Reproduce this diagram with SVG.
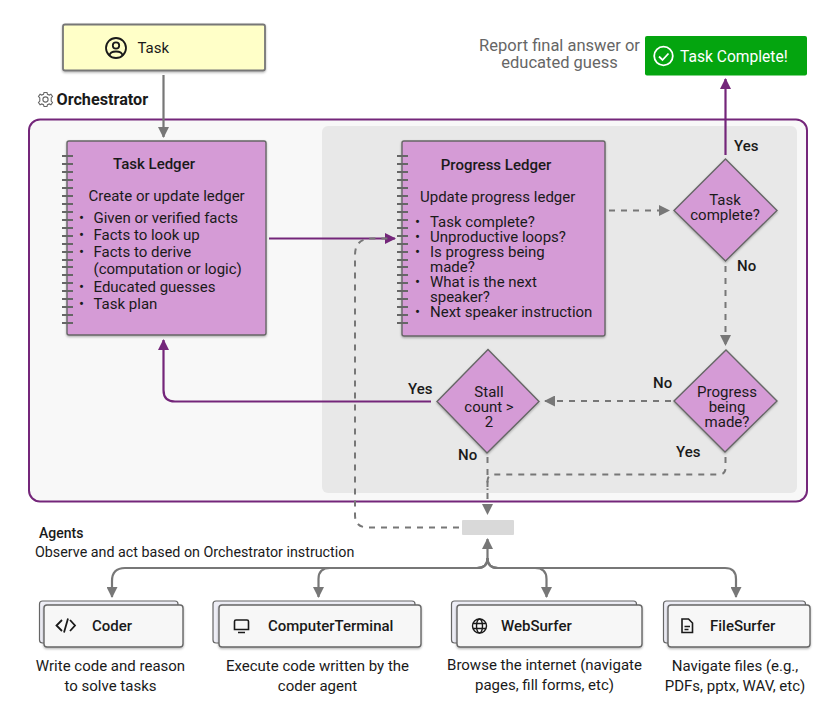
<svg xmlns="http://www.w3.org/2000/svg" width="824" height="704" viewBox="0 0 824 704">
<style>
text{font-family:Roboto,"Liberation Sans",sans-serif;fill:#1a1a1a;font-size:15px}
.c{text-anchor:middle}
.b{font-weight:500}
.sh{filter:url(#s)}
.led{fill:#d59bd6;stroke:#666;stroke-width:1.4}
.card{fill:#f7f7f7;stroke:#666;stroke-width:1.4}
.back{fill:#eeeef6;stroke:#666;stroke-width:1.2}
.g{fill:none;stroke:#777;stroke-width:2.2}
.gd{fill:none;stroke:#777;stroke-width:2;stroke-dasharray:6 6}
.p{fill:none;stroke:#74267a;stroke-width:2.2}
.sp{stroke:#666;stroke-width:2;fill:none}
.ic{fill:none;stroke:#1a1a1a;stroke-width:1.8}
</style>
<defs>
<filter id="s" x="-10%" y="-10%" width="120%" height="125%"><feDropShadow dx="0" dy="1.2" stdDeviation="1.2" flood-color="#000" flood-opacity=".3"/></filter>
<marker id="ag" markerUnits="userSpaceOnUse" markerWidth="12" markerHeight="11" refX="10" refY="5.5" orient="auto"><path d="M0 0L11 5.5L0 11Z" fill="#777"/></marker>
<marker id="ap" markerUnits="userSpaceOnUse" markerWidth="12" markerHeight="11" refX="10" refY="5.5" orient="auto"><path d="M0 0L11 5.5L0 11Z" fill="#74267a"/></marker>
<path id="rings" d="M62 156h11M62 164h11M62 172h11M62 180h11M62 188h11M62 196h11M62 204h11M62 212h11M62 220h11M62 228h11M62 236h11M62 244h11M62 252h11M62 260h11M62 267h11M62 275h11M62 283h11M62 291h11M62 299h11M62 307h11M62 315h11M62 323h11"/>
</defs>

<g id="orchestrator-frame">
<rect x="29" y="119.500" width="778" height="382" rx="11" fill="#f8f8f8" stroke="#74267a" stroke-width="2"/>
<rect x="322" y="126" width="475" height="367" rx="6" fill="#e8e8e8"/>
</g>
<g id="orchestrator-label">
<g class="ic" style="stroke:#666;stroke-width:1.1" transform="translate(45.500 99.500)">
<circle r="2.600"/>
<path d="M-1.500 -7L1.500 -7L2 -5.200L3.800 -4.400L5.400 -5.300L7 -3L5.700 -1.500L5.700 1.500L7 3L5.400 5.300L3.800 4.400L2 5.200L1.500 7L-1.500 7L-2 5.200L-3.800 4.400L-5.400 5.300L-7 3L-5.700 1.500L-5.700 -1.500L-7 -3L-5.400 -5.300L-3.800 -4.400L-2 -5.200Z"/>
</g>
<text x="56.500" y="105" style="font-weight:700;font-size:16.200px">Orchestrator</text>
</g>

<g id="connectors">
<path class="g" d="M163.500 75V137" marker-end="url(#ag)"/>
<path class="p" d="M269 238.500H395" marker-end="url(#ap)"/>
<path class="gd" d="M609 210.500H669" marker-end="url(#ag)"/>
<path class="p" d="M725.500 155V79" marker-end="url(#ap)"/>
<path class="gd" d="M725.500 266V345" marker-end="url(#ag)"/>
<path class="gd" d="M671 401H545" marker-end="url(#ag)"/>
<path class="p" d="M431 401.500H175Q163.500 401.500 163.500 390V340" marker-end="url(#ap)"/>
<path class="gd" d="M487.500 457V514" marker-end="url(#ag)"/>
<path class="gd" d="M725.500 457V468Q725.500 474.500 719 474.500H494Q487.500 474.500 487.500 481V490"/>
<path class="gd" d="M459 527.500H368Q355 527.500 355 515V255Q355 238.500 372 238.500H392"/>
<path class="g" d="M487.500 558Q487.500 568 477 568H125Q112 568 112 581V597" marker-end="url(#ag)"/>
<path class="g" d="M487.500 558Q487.500 568 477 568H330Q318.500 568 318.500 579V597" marker-end="url(#ag)"/>
<path class="g" d="M487.500 558Q487.500 568 498 568H535Q546.500 568 546.500 579V597" marker-end="url(#ag)"/>
<path class="g" d="M487.500 558Q487.500 568 498 568H725Q736 568 736 579V597" marker-end="url(#ag)"/>
<path class="g" d="M487.500 558V539" marker-end="url(#ag)"/>
</g>

<g id="task"><rect class="sh" x="63" y="24.500" width="202" height="46" rx="2" fill="#ffffc8" stroke="#777" stroke-width="1.800"/>
<g class="ic"><circle cx="116" cy="48" r="10"/><circle cx="116" cy="45.500" r="3.200"/><path d="M109.500 55.500Q110 51.500 116 51.500Q122 51.500 122.500 55.500"/></g>
<text x="137.500" y="52.500">Task</text></g>

<g id="task-complete"><rect x="645" y="36" width="162" height="39.500" rx="2" fill="#04a50f"/>
<circle cx="663.500" cy="56" r="9.300" fill="none" stroke="#fff" stroke-width="1.800"/><path d="M659 56.500L662.500 60L668.500 53.500" fill="none" stroke="#fff" stroke-width="1.800"/>
<text x="680" y="62" style="fill:#fff;font-size:15.600px">Task Complete!</text></g>
<g id="report-label"><text class="c" x="559.500" y="51" style="fill:#666;font-size:16.500px">Report final answer or</text><text class="c" x="559.500" y="67.500" style="fill:#666;font-size:16.500px">educated guess</text></g>

<g id="task-ledger"><rect class="led sh" x="67" y="141" width="199" height="194" rx="2"/>
<use href="#rings" class="sp"/>
<text class="c b" x="154" y="169">Task Ledger</text>
<text x="88.500" y="201">Create or update ledger</text>
<text x="79" y="223">•</text><text x="93.500" y="223">Given or verified facts</text>
<text x="79" y="240">•</text><text x="93.500" y="240">Facts to look up</text>
<text x="79" y="257">•</text><text x="93.500" y="257">Facts to derive</text>
<text x="93.500" y="274">(computation or logic)</text>
<text x="79" y="291.500">•</text><text x="93.500" y="291.500">Educated guesses</text>
<text x="79" y="309">•</text><text x="93.500" y="309">Task plan</text></g>

<g id="progress-ledger"><rect class="led sh" x="402" y="141" width="203" height="195" rx="2"/>
<use href="#rings" class="sp" x="335"/>
<text class="c b" x="496" y="170">Progress Ledger</text>
<text x="420" y="202">Update progress ledger</text>
<text x="415" y="227">•</text><text x="430" y="227">Task complete?</text>
<text x="415" y="242">•</text><text x="430" y="242">Unproductive loops?</text>
<text x="415" y="257">•</text><text x="430" y="257">Is progress being</text>
<text x="430" y="272">made?</text>
<text x="415" y="287">•</text><text x="430" y="287">What is the next</text>
<text x="430" y="302">speaker?</text>
<text x="415" y="317">•</text><text x="430" y="317">Next speaker instruction</text></g>

<g id="d-task"><path class="led sh" d="M725.500 159L777 210.500L725.500 261L674 210.500Z"/>
<text class="c" x="725" y="205">Task</text><text class="c" x="725" y="220">complete?</text></g>
<g id="d-progress"><path class="led sh" d="M726 350L777 401L725 452L674 401Z"/>
<text class="c" x="727" y="397">Progress</text><text class="c" x="727" y="412">being</text><text class="c" x="727" y="426.500">made?</text></g>
<g id="d-stall"><path class="led sh" d="M488 349.500L539 401.500L487 453L437 401.500Z"/>
<text class="c" x="489" y="397">Stall</text><text class="c" x="489" y="412">count &gt;</text><text class="c" x="489" y="427">2</text></g>

<g id="edge-labels" class="b">
<text x="734" y="150.500">Yes</text><text x="737" y="270.500">No</text>
<text x="653" y="388">No</text><text x="676" y="456.500">Yes</text>
<text x="408" y="394">Yes</text><text x="458" y="460">No</text>
</g>

<g id="hub"><rect x="462" y="520" width="52" height="15" rx="1" fill="#d9d9d9"/></g>
<g id="agents-label"><text x="39" y="538" style="font-weight:500;font-size:14px">Agents</text>
<text x="35" y="557" style="font-size:14.300px">Observe and act based on Orchestrator instruction</text></g>

<g id="coder"><rect class="back" x="39.500" y="601" width="138.500" height="42" rx="3"/><rect class="card sh" x="44" y="605" width="139" height="42" rx="3"/>
<path class="ic" d="M62 620L56.500 625.500L62 631M70 620L75 625.500L70 631M68 618.500L64 632.500"/>
<text x="92" y="630.500" class="b">Coder</text>
<text class="c" x="110.500" y="671">Write code and reason</text><text class="c" x="110.500" y="691">to solve tasks</text></g>

<g id="computerterminal"><rect class="back" x="213" y="601" width="202" height="42" rx="3"/><rect class="card sh" x="219" y="605" width="202" height="42" rx="3"/>
<path class="ic" style="stroke-width:1.600" d="M236 620H247Q248.500 620 248.500 621.500V629.500H234.500V621.500Q234.500 620 236 620ZM238 632.500H245"/>
<text x="268" y="631" class="b">ComputerTerminal</text>
<text class="c" x="317.500" y="671">Execute code written by the</text><text class="c" x="317.500" y="691">coder agent</text></g>

<g id="websurfer"><rect class="back" x="451.500" y="601" width="185" height="42" rx="3"/><rect class="card sh" x="457" y="605" width="185" height="42" rx="3"/>
<g class="ic" style="stroke-width:1.400"><circle cx="479.500" cy="626" r="7"/><ellipse cx="479.500" cy="626" rx="3" ry="7"/><path d="M473 623.500H486M473 628.500H486"/></g>
<text x="501" y="630.500" class="b">WebSurfer</text>
<text class="c" x="544.500" y="669.500">Browse the internet (navigate</text><text class="c" x="544.500" y="690">pages, fill forms, etc)</text></g>

<g id="filesurfer"><rect class="back" x="663.500" y="601" width="142" height="42" rx="3"/><rect class="card sh" x="668" y="605" width="142" height="42" rx="3"/>
<path class="ic" style="stroke-width:1.600" d="M682 619H688.500L692.500 623V632.500H682ZM684.500 626.500H690M684.500 629.500H688.500"/>
<text x="710" y="630.500" class="b">FileSurfer</text>
<text class="c" x="735" y="670.500">Navigate files (e.g.,</text><text class="c" x="735" y="691">PDFs, pptx, WAV, etc)</text></g>
</svg>
